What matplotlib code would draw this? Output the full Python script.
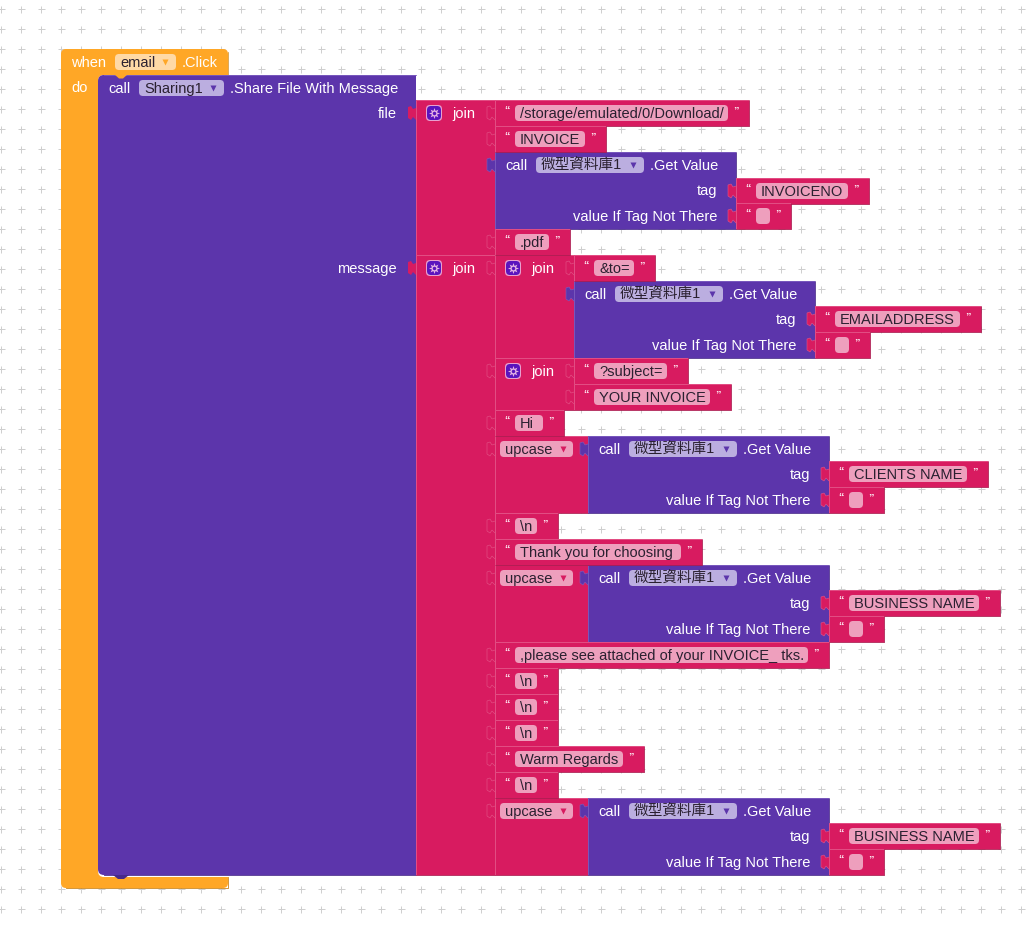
"""App Inventor blocks for the email button: share an invoice PDF with a prefilled message."""

import matplotlib

matplotlib.use("Agg")
import matplotlib.pyplot as plt
from matplotlib.patches import FancyBboxPatch, Polygon, Rectangle

plt.rcParams["font.family"] = ["Liberation Sans", "Noto Sans CJK TC", "DejaVu Sans"]

WIDTH, HEIGHT = 1036, 927
FONT = 14.67 * 0.72  # 14.67 px at dpi 100

ORANGE = ("#FFA726", "#FFBE5C", "#CC8518", "#FFD9A6")
PURPLE = ("#5C35AB", "#7D5EC0", "#47298A", "#BBAEE0")
PINK = ("#D81B60", "#E4578A", "#AC144B", "#EE9FBD")

TAIL = 241  # width of a Get Value call block
STRING_H = 26

# (x0, y0, x1, text): string blocks, height is always STRING_H
STRINGS = [
    (495, 100, 749, "/storage/emulated/0/Download/"),
    (495, 126, 606, "INVOICE"),
    (736, 178, 869, "INVOICENO"),
    (736, 203, 791, ""),
    (495, 229, 570, ".pdf"),
    (574, 255, 655, "&to="),
    (815, 306, 981, "EMAILADDRESS"),
    (815, 332, 870, ""),
    (574, 358, 688, "?subject="),
    (574, 384, 731, "YOUR INVOICE"),
    (495, 410, 564, "Hi"),
    (829, 461, 988, "CLIENTS NAME"),
    (829, 487, 884, ""),
    (495, 513, 558, "\\n"),
    (495, 539, 702, "Thank you for choosing"),
    (829, 590, 1000, "BUSINESS NAME"),
    (829, 616, 884, ""),
    (495, 642, 829, ",please see attached of your INVOICE_ tks."),
    (495, 668, 558, "\\n"),
    (495, 694, 558, "\\n"),
    (495, 720, 558, "\\n"),
    (495, 746, 644, "Warm Regards"),
    (495, 772, 558, "\\n"),
    (829, 823, 1000, "BUSINESS NAME"),
    (829, 849, 884, ""),
]

# (x0, y0, x1, y1)
JOINS = [
    (416, 100, 495, 255),
    (416, 255, 495, 875),
    (495, 255, 574, 358),
    (495, 358, 574, 410),
]

UPCASES = [(495, 436, 588, 513), (495, 565, 588, 642), (495, 798, 588, 875)]

# (x0, y0): TinyDB GetValue call blocks
GET_VALUES = [(495, 152), (574, 281), (588, 436), (588, 565), (588, 798)]


def px(size):
    return size * 0.72


def add(ax, patch):
    # same zorder as lines so that later blocks paint over earlier ones
    patch.set_zorder(2)
    ax.add_patch(patch)


def block(ax, x0, y0, x1, y1, colors):
    add(ax, Rectangle((x0, y0), x1 - x0, y1 - y0, fc=colors[0], ec="none"))
    ax.plot([x0, x0, x1], [y1, y0, y0], color=colors[1], lw=0.6, solid_capstyle="butt")
    ax.plot([x0, x1, x1], [y1, y1, y0], color=colors[2], lw=0.6, solid_capstyle="butt")


def tab(ax, x, yc, colors, outline=True):
    """Puzzle connector sticking out to the left of x."""
    pts = [
        (x, yc - 5),
        (x - 3, yc - 4),
        (x - 5, yc - 7),
        (x - 8, yc - 6),
        (x - 8, yc + 5),
        (x - 5, yc + 7),
        (x - 3, yc + 4),
        (x, yc + 7),
    ]
    add(ax, Polygon(pts, closed=False, fc=colors[0], ec=colors[1] if outline else "none", lw=0.4))


def pill(ax, x0, y0, x1, y1, color):
    add(
        ax,
        FancyBboxPatch(
            (x0 + 3, y0 + 3),
            x1 - x0 - 6,
            y1 - y0 - 6,
            boxstyle="round,pad=3,rounding_size=4",
            fc=color,
            ec="none",
        ),
    )


def label(ax, x, yc, text, color="white", ha="left"):
    ax.text(x, yc + 5, text, color=color, fontsize=FONT, ha=ha, va="baseline")


def dropdown(ax, x0, x1, yc, text, colors, arrow_x):
    pill(ax, x0, yc - 8, x1, yc + 8, colors[3])
    label(ax, x0 + 5, yc, text, color="#2A2030")
    ax.plot(arrow_x, yc, marker="v", ms=px(6), color=colors[0], mec="none")


def string_block(ax, x0, y0, x1, text):
    block(ax, x0, y0, x1, y0 + STRING_H, PINK)
    tab(ax, x0, y0 + 13, PINK)
    pill(ax, x0 + 20, y0 + 5, x1 - 21, y0 + 21, PINK[3])
    if text:
        label(ax, x0 + 25, y0 + 13, text, color="#2A2030")
    ax.text(x0 + 12, y0 + 11, "\u201c", color="#FBE3EC", fontsize=px(11), ha="center",
            va="center", fontweight="bold")
    ax.text(x1 - 13, y0 + 11, "\u201d", color="#FBE3EC", fontsize=px(11), ha="center",
            va="center", fontweight="bold")


def join_block(ax, x0, y0, x1, y1):
    block(ax, x0, y0, x1, y1, PINK)
    tab(ax, x0, y0 + 13, PINK, outline=False)
    icon_x = x0 + 18
    icon_y = y0 + 13
    pill(ax, icon_x - 8, icon_y - 8, icon_x + 8, icon_y + 8, "#E8A0D0")
    pill(ax, icon_x - 7, icon_y - 7, icon_x + 7, icon_y + 7, "#5A14BE")
    ax.plot(icon_x, icon_y, marker=(8, 1, 0), ms=px(11), color="#E6B4E4", mec="none")
    ax.plot(icon_x, icon_y, marker="o", ms=px(3.5), color="#5A14BE", mec="none")
    label(ax, x0 + 36, icon_y, "join")


def get_value(ax, x0, y0):
    x1 = x0 + TAIL
    y1 = y0 + 77
    block(ax, x0, y0, x1, y1, PURPLE)
    tab(ax, x0, y0 + 13, PURPLE)
    label(ax, x0 + 10, y0 + 13, "call")
    dropdown(ax, x0 + 41, x0 + 149, y0 + 13, "\u5fae\u578b\u8cc7\u6599\u5eab1", PURPLE, x0 + 138)
    label(ax, x0 + 155, y0 + 13, ".Get Value")
    label(ax, x1 - 19, y0 + 38, "tag", ha="right")
    label(ax, x1 - 19, y0 + 64, "value If Tag Not There", ha="right")


def main():
    fig = plt.figure(figsize=(WIDTH / 100, HEIGHT / 100), dpi=100)
    ax = fig.add_axes([0, 0, 1, 1])
    ax.set_xlim(0, WIDTH)
    ax.set_ylim(HEIGHT, 0)
    ax.axis("off")

    # workspace grid
    xs = list(range(1, 1030, 20))
    ys = list(range(9, 920, 20))
    grid = [(x, y) for x in xs for y in ys]
    ax.plot([g[0] for g in grid], [g[1] for g in grid], ls="none", marker="+", ms=px(7),
            mew=0.72, color="#CFCFCF", zorder=0)

    # event block
    add(ax, FancyBboxPatch((65, 53), 159, 831, boxstyle="round,pad=4,rounding_size=5",
                           fc=ORANGE[0], ec="none"))
    ax.plot([228, 228], [52, 75], color=ORANGE[2], lw=0.5)
    ax.plot([66, 228, 228], [888, 888, 877], color=ORANGE[2], lw=0.6)
    add(ax, FancyBboxPatch((106, 83), 123, 786, boxstyle="round,pad=8,rounding_size=6",
                           fc="white", ec="none"))
    label(ax, 71, 62, "when")
    dropdown(ax, 115, 176, 62, "email", ORANGE, 165)
    label(ax, 182, 62, ".Click")
    label(ax, 71, 87, "do")

    # Sharing1 call block
    add(ax, FancyBboxPatch((104, 81), 306, 788, boxstyle="round,pad=6,rounding_size=6",
                           fc=PURPLE[0], ec="none"))
    add(ax, Rectangle((380, 75), 36, 800, fc=PURPLE[0], ec="none"))
    ax.plot([104, 416], [75, 75], color=PURPLE[1], lw=0.6)
    ax.plot([104, 416], [875, 875], color=PURPLE[2], lw=0.6)
    add(ax, Polygon([(113, 875), (118, 879), (124, 879), (129, 875)], fc=PURPLE[2], ec="none"))
    add(ax, Polygon([(114, 74), (119, 78.5), (123, 78.5), (128, 74)], fc=ORANGE[0], ec="none"))
    label(ax, 108, 88, "call")
    dropdown(ax, 139, 224, 88, "Sharing1", PURPLE, 213)
    label(ax, 230, 88, ".Share File With Message")
    label(ax, 397, 113, "file", ha="right")
    label(ax, 397, 268, "message", ha="right")

    for x0, y0, x1, y1 in JOINS:
        join_block(ax, x0, y0, x1, y1)

    for x0, y0, x1, y1 in UPCASES:
        block(ax, x0, y0, x1, y1, PINK)
        tab(ax, x0, y0 + 13, PINK)
        dropdown(ax, x0 + 5, x0 + 78, y0 + 13, "upcase", PINK, x0 + 68)

    for x0, y0 in GET_VALUES:
        get_value(ax, x0, y0)

    for x0, y0, x1, text in STRINGS:
        string_block(ax, x0, y0, x1, text)

    # sockets of the nested joins sit on top of their neighbours
    for x0, y0, _, _ in JOINS[2:]:
        tab(ax, x0, y0 + 13, PINK)

    fig.savefig("out.png", dpi=100)


if __name__ == "__main__":
    main()
